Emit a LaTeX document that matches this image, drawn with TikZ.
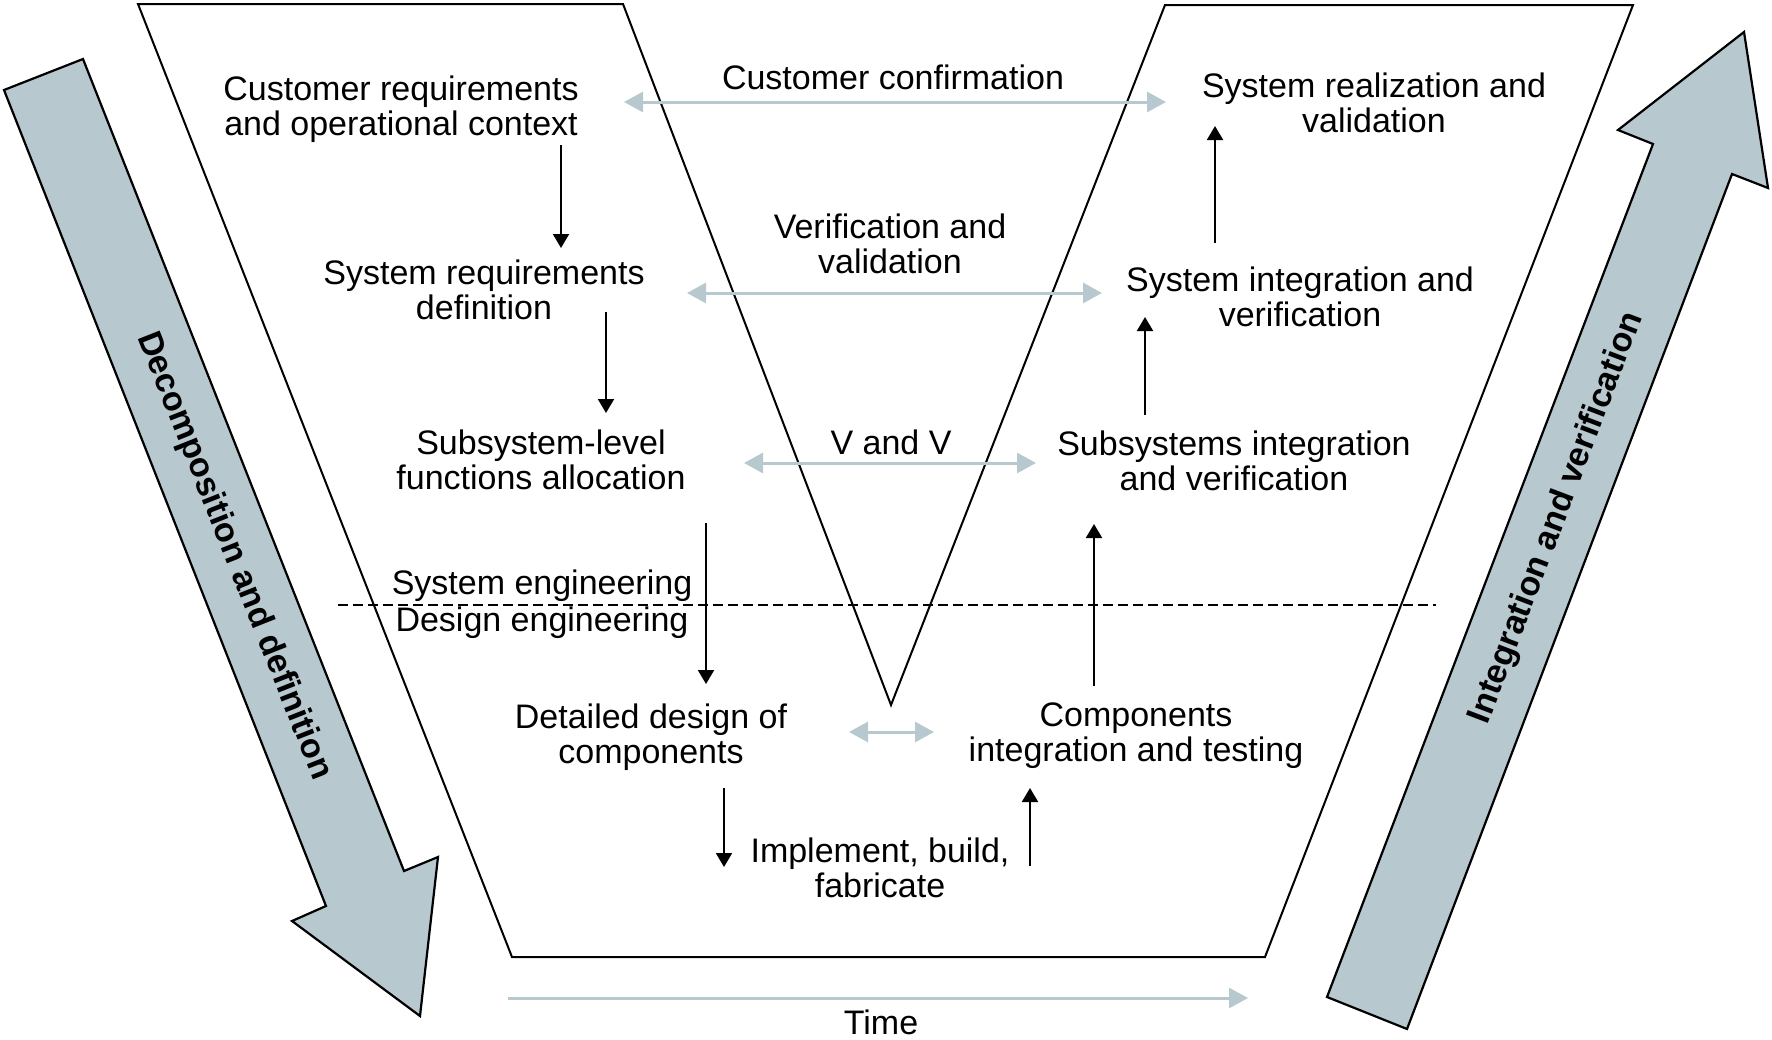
\documentclass[tikz,border=0pt]{standalone}
\usepackage{fontspec}
\setmainfont{Liberation Sans}
\usetikzlibrary{arrows.meta}
\definecolor{bluegray}{RGB}{183,200,207}
\begin{document}
\begin{tikzpicture}[x=0.5pt,y=-0.5pt,
  lbl/.style={font=\fontsize{17}{17.5}\selectfont, align=center, inner sep=0pt, anchor=north},
  bigtxt/.style={font=\fontsize{17}{17.5}\selectfont\bfseries, inner sep=0pt, anchor=center},
  blk/.style={line width=1pt, -{Triangle[width=8pt,length=7pt]}},
  gry/.style={draw=bluegray, line width=1.5pt, {Triangle[width=10pt,length=9.5pt]}-{Triangle[width=10pt,length=9.5pt]}},
  gryone/.style={draw=bluegray, line width=1.5pt, -{Triangle[width=10pt,length=9.5pt]}},
  frame/.style={draw=black, line width=1pt, line join=miter},
  bigarrow/.style={draw=black, line width=1.1pt, fill=bluegray, line join=miter},
  divider/.style={draw=black, line width=0.6pt, dash pattern=on 5pt off 2.5pt}
]
\useasboundingbox (0,0) rectangle (1772,1039);

% V-shaped frame
\draw[frame] (138,4) -- (623,4) -- (891,705) -- (1165,5) -- (1633,5) -- (1265,957) -- (512,957) -- cycle;

% big arrows
\draw[bigarrow] (4,90) -- (83,59) -- (404,871) -- (438,857) -- (420,1016) -- (292,921) -- (326,906) -- cycle;
\draw[bigarrow] (1327,997) -- (1653,144) -- (1618,130) -- (1744,32) -- (1768,188) -- (1732,174) -- (1407,1029) -- cycle;

\node[bigtxt, rotate=-68.4] (decomp) at (234,556) {Decomposition and definition};
\node[bigtxt, rotate=69.2] (integ) at (1557,518) {Integration and verification};

% labels
\node[lbl] (cust) at (401,75) {Customer requirements\\and operational context};
\node[lbl] (sysreq) at (484,259) {System requirements\\definition};
\node[lbl] (subsys) at (541,429) {Subsystem-level\\functions allocation};
\node[lbl] (syseng) at (542,569) {System engineering};
\node[lbl] (deseng) at (542,606) {Design engineering};
\node[lbl] (detail) at (651,703) {Detailed design of\\components};
\node[lbl] (impl) at (880,837) {Implement, build,\\fabricate};
\node[lbl] (vandv) at (891,429) {V and V};
\node[lbl] (verval) at (890,213) {Verification and\\validation};
\node[lbl] (custconf) at (893,64) {Customer confirmation};
\node[lbl] (sysreal) at (1374,72) {System realization and\\validation};
\node[lbl] (sysint) at (1300,266) {System integration and\\verification};
\node[lbl] (subint) at (1234,430) {Subsystems integration\\and verification};
\node[lbl] (comp) at (1136,702) {Components\\integration and testing};
\node[lbl] (time) at (881,1009) {Time};

% connector end points
\coordinate (a1s) at (561,145); \coordinate (a1e) at (561,248);
\coordinate (a2s) at (606,312); \coordinate (a2e) at (606,413);
\coordinate (a3s) at (706,523); \coordinate (a3e) at (706,684);
\coordinate (a4s) at (724,788); \coordinate (a4e) at (724,867);
\coordinate (a5s) at (1030,866); \coordinate (a5e) at (1030,788);
\coordinate (a6s) at (1094,686); \coordinate (a6e) at (1094,524);
\coordinate (a7s) at (1145,415); \coordinate (a7e) at (1145,317);
\coordinate (a8s) at (1215,243); \coordinate (a8e) at (1215,126);

\draw[blk] (a1s) -- (a1e);
\draw[blk] (a2s) -- (a2e);
\draw[blk] (a3s) -- (a3e);
\draw[blk] (a4s) -- (a4e);
\draw[blk] (a5s) -- (a5e);
\draw[blk] (a6s) -- (a6e);
\draw[blk] (a7s) -- (a7e);
\draw[blk] (a8s) -- (a8e);

\coordinate (g1l) at (624,102); \coordinate (g1r) at (1166,102);
\coordinate (g2l) at (687,293); \coordinate (g2r) at (1102,293);
\coordinate (g3l) at (744,463); \coordinate (g3r) at (1036,463);
\coordinate (g4l) at (849,732); \coordinate (g4r) at (934,732);
\coordinate (t1) at (508,998); \coordinate (t2) at (1248,998);

\draw[gry] (g1l) -- (g1r);
\draw[gry] (g2l) -- (g2r);
\draw[gry] (g3l) -- (g3r);
\draw[gry] (g4l) -- (g4r);
\draw[gryone] (t1) -- (t2);

% divider
\coordinate (d1) at (338,605); \coordinate (d2) at (1436,605);
\draw[divider] (d1) -- (d2);
\end{tikzpicture}
\end{document}
